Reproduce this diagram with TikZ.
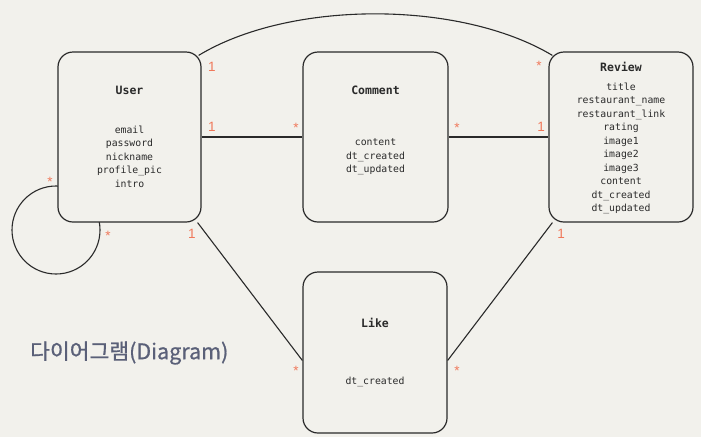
\documentclass[tikz,border=0pt]{standalone}
\usepackage{fontspec}
\setmonofont{DejaVu Sans Mono}
\setsansfont{Liberation Sans}
\newfontfamily\cjk[FakeBold=0.8]{Noto Sans CJK KR}
\definecolor{bg}{HTML}{F2F1EC}
\definecolor{mult}{HTML}{F0785A}
\definecolor{ttl}{HTML}{5A6078}
\definecolor{ln}{HTML}{2A2A2A}
\begin{document}
\begin{tikzpicture}[x=1pt,y=-1pt,
  entity/.style={draw=ln,line width=1.2pt,fill=bg,rounded corners=15pt,inner sep=0pt},
  ename/.style={font=\ttfamily\bfseries\fontsize{11.5}{13}\selectfont,text=ln,inner sep=0pt},
  attrs/.style={font=\ttfamily\fontsize{9.8}{13.5}\selectfont,text=ln,align=center,inner sep=0pt,anchor=north},
  rel/.style={draw=ln,line width=1.1pt},
  mlab/.style={font=\sffamily\fontsize{13.5}{14}\selectfont,text=mult,inner sep=0pt}]
\fill[bg] (0,0) rectangle (701,437);
\useasboundingbox (0,0) rectangle (701,437);
% self loop
\draw[rel] (56,230) circle (44);
% boxes
\node[entity,minimum width=143pt,minimum height=170pt] (user) at (129.5,137) {};
\node[entity,minimum width=145pt,minimum height=170pt] (comment) at (375.5,137) {};
\node[entity,minimum width=144pt,minimum height=170pt] (review) at (621,137) {};
\node[entity,minimum width=144pt,minimum height=161pt] (like) at (375,352.5) {};
% connectors
\draw[rel] (user.east) -- (comment.west);
\draw[rel] (comment.east) -- (review.west);
\draw[rel] ([xshift=-3pt,yshift=-4pt]user.north east) .. controls (290,0) and (460,0) .. ([xshift=4pt,yshift=-4pt]review.north west);
\draw[rel] ([xshift=-4pt,yshift=0pt]user.south east) -- ([yshift=-8pt]like.west);
\draw[rel] ([xshift=4pt]review.south west) -- ([yshift=-8pt]like.east);
% texts
\node[ename] (userT) at (129.5,90.5) {User};
\node[attrs] (userA) at (129.5,125.5) {email\\password\\nickname\\profile\_pic\\intro};
\node[ename] (commentT) at (375.5,90.5) {Comment};
\node[attrs] (commentA) at (375.5,138.5) {content\\dt\_created\\dt\_updated};
\node[ename] (reviewT) at (621,66.5) {Review};
\node[attrs] (reviewA) at (621,82.5) {title\\restaurant\_name\\restaurant\_link\\rating\\image1\\image2\\image3\\content\\dt\_created\\dt\_updated};
\node[ename] (likeT) at (375,322.5) {Like};
\node[attrs] (likeA) at (375,376.5) {dt\_created};
% multiplicities
\node[mlab] (m1) at (212,67) {1};
\node[mlab] (m2) at (539,66) {*};
\node[mlab] (m3) at (212,127) {1};
\node[mlab] (m4) at (296,128) {*};
\node[mlab] (m5) at (457,128) {*};
\node[mlab] (m6) at (541,127) {1};
\node[mlab] (m7) at (192,234) {1};
\node[mlab] (m8) at (561,234) {1};
\node[mlab] (m9) at (296,371) {*};
\node[mlab] (m10) at (457,371) {*};
\node[mlab] (m11) at (50,182) {*};
\node[mlab] (m12) at (108,236) {*};
% title
\node[font=\cjk\fontsize{21.5}{24}\selectfont,text=ttl,anchor=west,inner sep=0pt] (title) at (30,353) {다이어그램(Diagram)};
\end{tikzpicture}
\end{document}
